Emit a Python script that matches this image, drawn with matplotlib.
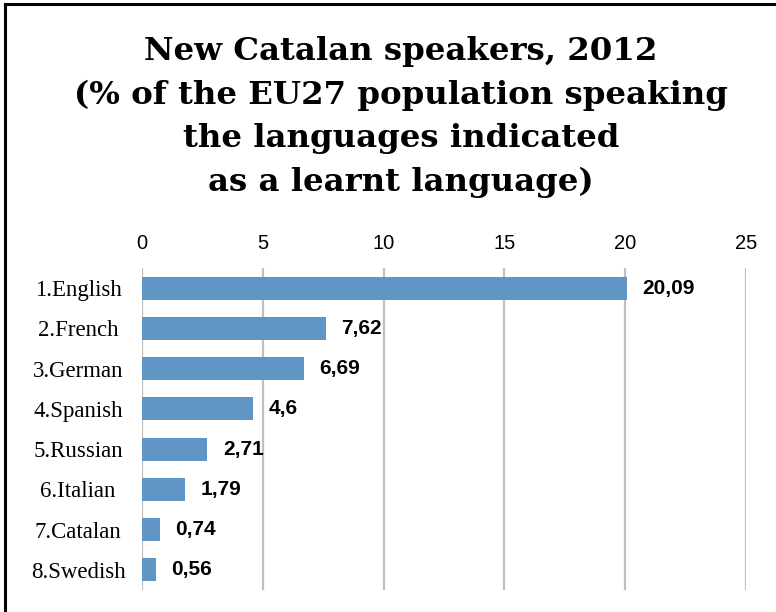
import matplotlib
matplotlib.use("Agg")
import matplotlib.pyplot as plt
from matplotlib.lines import Line2D

categories = ["1.English", "2.French", "3.German", "4.Spanish", "5.Russian",
              "6.Italian", "7.Catalan", "8.Swedish"]
values = [20.09, 7.62, 6.69, 4.6, 2.71, 1.79, 0.74, 0.56]
value_labels = ["20,09", "7,62", "6,69", "4,6", "2,71", "1,79", "0,74", "0,56"]
xticks = [0, 5, 10, 15, 20, 25]

W, H = 776, 612
fig = plt.figure(figsize=(W / 100, H / 100), dpi=100)
fig.patch.set_facecolor("white")

ax = fig.add_axes([142 / W, 1 - 590 / H, (746 - 142) / W, (590 - 268) / H])
ypos = list(range(len(categories)))
ax.barh(ypos, values, height=0.57, color="#5F96C5", zorder=3)
ax.set_xlim(0, 25)
ax.set_ylim(len(categories) - 0.5, -0.5)

ax.set_xticks(xticks)
ax.set_xticklabels([str(t) for t in xticks], fontsize=14.5,
                   family="Liberation Sans")
ax.xaxis.tick_top()
ax.tick_params(axis="x", length=0, pad=11)
ax.grid(axis="x", color="#BFBFBF", linewidth=1.6, zorder=0)
ax.grid(axis="y", visible=False)

ax.set_yticks(ypos)
ax.set_yticklabels(categories, fontsize=16.5, family="Liberation Serif")
ax.tick_params(axis="y", length=0, pad=46)
for lab in ax.get_yticklabels():
    lab.set_ha("center")

for s in ax.spines.values():
    s.set_visible(False)

for y, v, t in zip(ypos, values, value_labels):
    ax.annotate(t, (v, y), xytext=(11, 0), textcoords="offset points",
                va="center", ha="left", fontsize=15, fontweight="bold",
                family="Liberation Sans")

fig.text(401 / W, 1 - 36 / H,
         "New Catalan speakers, 2012\n(% of the EU27 population speaking\nthe languages indicated\nas a learnt language)",
         ha="center", va="top", fontsize=23.3, fontweight="bold",
         family="DejaVu Serif", linespacing=1.52, multialignment="center")

fig.add_artist(Line2D([5 / W, 5 / W], [0, 1 - 4 / H], transform=fig.transFigure,
                      color="black", linewidth=2.2))
fig.add_artist(Line2D([5 / W, 1], [1 - 4 / H, 1 - 4 / H], transform=fig.transFigure,
                      color="black", linewidth=2.2))

fig.savefig("out.png", dpi=100)
